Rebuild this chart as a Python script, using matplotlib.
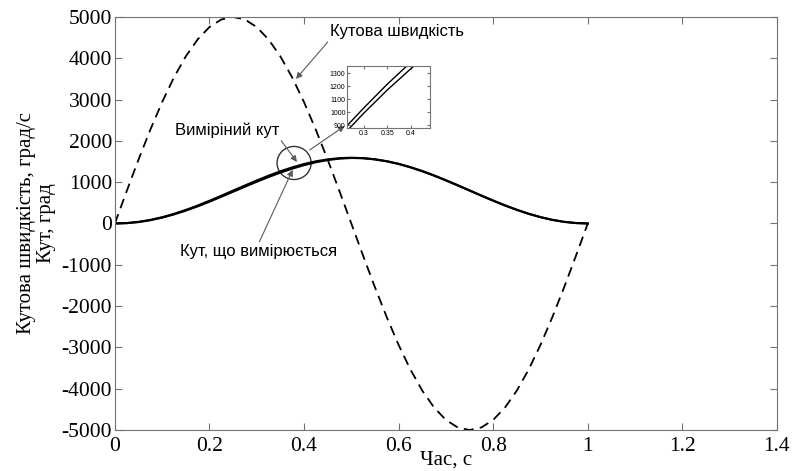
import matplotlib
matplotlib.use('Agg')
import matplotlib.pyplot as plt
from matplotlib.patches import Ellipse

# time, s
t = [0.0, 0.025, 0.05, 0.075, 0.1, 0.125, 0.15, 0.175, 0.2, 0.225,
     0.25, 0.275, 0.3, 0.325, 0.35, 0.375, 0.4, 0.425, 0.45, 0.475,
     0.5, 0.525, 0.55, 0.575, 0.6, 0.625, 0.65, 0.675, 0.7, 0.725,
     0.75, 0.775, 0.8, 0.825, 0.85, 0.875, 0.9, 0.925, 0.95, 0.975, 1.0]

# angular velocity, deg/s (dashed)
velocity = [0, 782, 1545, 2270, 2939, 3536, 4045, 4455, 4755, 4938,
            5000, 4938, 4755, 4455, 4045, 3536, 2939, 2270, 1545, 782,
            0, -782, -1545, -2270, -2939, -3536, -4045, -4455, -4755, -4938,
            -5000, -4938, -4755, -4455, -4045, -3536, -2939, -2270, -1545, -782, 0]

# angle being measured, deg
angle = [0, 10, 39, 87, 152, 233, 328, 434, 550, 671,
         796, 920, 1041, 1157, 1264, 1358, 1440, 1505, 1552, 1582,
         1592, 1582, 1552, 1505, 1440, 1358, 1264, 1157, 1041, 920,
         796, 671, 550, 434, 328, 233, 152, 87, 39, 10, 0]

# measured angle, deg
measured = [0, 8, 34, 79, 141, 219, 311, 414, 527, 646,
            768, 890, 1010, 1125, 1232, 1328, 1412, 1482, 1535, 1570,
            1586, 1580, 1553, 1508, 1445, 1365, 1271, 1165, 1049, 928,
            803, 678, 556, 440, 333, 237, 155, 89, 40, 11, 0]

# zoomed fragment (inset)
inset_t = [0.26, 0.30, 0.35, 0.40, 0.42]
inset_angle = [875, 1030, 1215, 1385, 1450]
inset_measured = [835, 990, 1170, 1335, 1400]

x_ticks = [0, 0.2, 0.4, 0.6, 0.8, 1, 1.2, 1.4]
x_tick_labels = ['0', '0.2', '0.4', '0.6', '0.8', '1', '1.2', '1.4']
y_ticks = list(range(-5000, 5001, 1000))

plt.rcParams['font.family'] = ['Liberation Serif', 'DejaVu Serif']
plt.rcParams['axes.unicode_minus'] = False
sans = ['Liberation Sans', 'DejaVu Sans']
spine_col = '0.45'

fig = plt.figure(figsize=(7.92, 4.71), dpi=100)
ax = fig.add_axes([0.145, 0.087, 0.836, 0.877])

ax.plot(t, velocity, color='black', lw=1.3, linestyle=(0, (5.5, 3.5)))
ax.plot(t, angle, color='black', lw=1.5)
ax.plot(t, measured, color='black', lw=1.5)

ax.set_xlim(0, 1.4)
ax.set_ylim(-5000, 5000)
ax.set_xticks(x_ticks)
ax.set_xticklabels(x_tick_labels)
ax.set_yticks(y_ticks)
ax.tick_params(direction='in', top=True, right=True, length=5,
               color=spine_col, labelsize=15.5, pad=2)
ax.tick_params(axis='x', pad=5)
for s in ax.spines.values():
    s.set_color(spine_col)
ax.set_xlabel('Час, с', fontsize=15, labelpad=-4)
ax.set_ylabel('Кутова швидкість, град/с\nКут, град', fontsize=15,
              labelpad=4, linespacing=1.1)

arrow = dict(arrowstyle='-|>', color='0.35', lw=0.8, mutation_scale=9,
             shrinkA=0, shrinkB=0)

ax.annotate('Кутова швидкість', xy=(0.383, 3500), xytext=(0.455, 4640),
            ha='left', va='center', fontsize=12, family=sans,
            arrowprops=dict(arrow, relpos=(0, 0)))
ax.annotate('Вимірiний кут', xy=(0.385, 1490), xytext=(0.237, 2260),
            ha='center', va='center', fontsize=12, family=sans,
            arrowprops=dict(arrow, relpos=(1, 0)))
ax.annotate('Кут, що вимірюється', xy=(0.376, 1300), xytext=(0.303, -690),
            ha='center', va='center', fontsize=12, family=sans,
            arrowprops=dict(arrow, relpos=(0.5, 1)))

ax.add_patch(Ellipse((0.379, 1465), 0.072, 800, fill=False,
                     edgecolor='0.2', lw=1.0))
ax.annotate('', xy=(0.486, 2360), xytext=(0.412, 1780), arrowprops=arrow)

# inset
ins = fig.add_axes([0.438, 0.728, 0.105, 0.132])
ins.plot(inset_t, inset_angle, color='black', lw=1.0)
ins.plot(inset_t, inset_measured, color='black', lw=1.0)
ins.set_xlim(0.265, 0.44)
ins.set_ylim(877, 1355)
ins.set_xticks([0.3, 0.35, 0.4])
ins.set_xticklabels(['0.3', '0.35', '0.4'])
ins.set_yticks([900, 1000, 1100, 1200, 1300])
ins.tick_params(direction='in', top=True, right=True, length=2,
                color=spine_col, labelsize=5, pad=1)
for lab in ins.get_xticklabels() + ins.get_yticklabels():
    lab.set_family(sans)
for s in ins.spines.values():
    s.set_color(spine_col)
    s.set_linewidth(0.8)

fig.savefig('out.png', dpi=100)
